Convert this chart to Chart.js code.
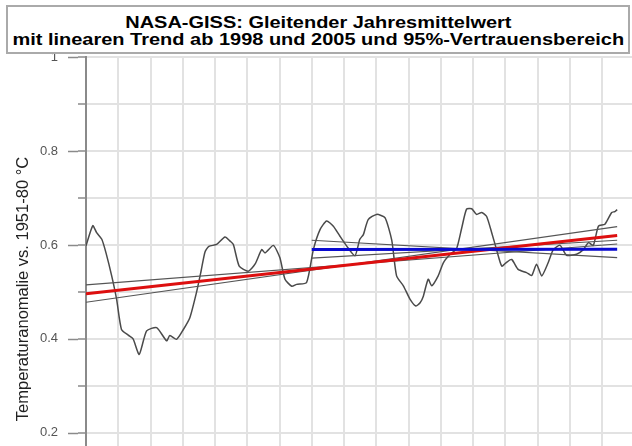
<!DOCTYPE html>
<html>
<head>
<meta charset="utf-8">
<script src="https://cdn.jsdelivr.net/npm/chart.js@4/dist/chart.umd.min.js"></script>
<style>
  html, body { margin: 0; padding: 0; background: #fff; }
  #wrap { position: relative; width: 632px; height: 446px; overflow: hidden; }
  #chart { position: absolute; left: 0; top: 0; }
  #title {
    position: absolute; left: 6px; top: 5px; width: 620px;
    border: 2px solid #aaa; background: #fff; text-align: center;
    font: bold 17px "Liberation Sans", Arial, sans-serif; color: #000;
    padding-top: 7px; box-sizing: content-box; height: 38px;
  }
  #title div { line-height: 17px; white-space: nowrap; }
  #title span { display: inline-block; transform: scaleX(1.175); transform-origin: center; }
</style>
</head>
<body>
<div id="wrap">
  <canvas id="chart" width="632" height="446"></canvas>
  <div id="title">
    <div><span>NASA-GISS: Gleitender Jahresmittelwert</span></div>
    <div><span>mit linearen Trend ab 1998 und 2005 und 95%-Vertrauensbereich</span></div>
  </div>
</div>
<script>
// gleitender 12-Monats-Mittelwert
const curveYears = [1998.00, 1998.21, 1998.33, 1998.49, 1998.62, 1998.80, 1998.95, 1999.10, 1999.31, 1999.46,
  1999.65, 1999.88, 2000.19, 2000.50, 2000.60, 2000.81, 2001.02, 2001.22, 2001.43, 2001.57,
  2001.69, 2001.81, 2002.05, 2002.31, 2002.47, 2002.57, 2002.75, 2003.03, 2003.24, 2003.45,
  2003.55, 2003.81, 2004.01, 2004.17, 2004.38, 2004.53, 2004.84, 2005.05, 2005.26, 2005.46,
  2005.67, 2005.87, 2006.08, 2006.34, 2006.49, 2006.60, 2006.75, 2007.01, 2007.27, 2007.48,
  2007.63, 2007.84, 2008.05, 2008.23, 2008.36, 2008.46, 2008.61, 2008.72, 2008.92, 2009.08,
  2009.29, 2009.49, 2009.65, 2009.80, 2009.96, 2010.11, 2010.27, 2010.42, 2010.58, 2010.73,
  2010.89, 2011.04, 2011.20, 2011.40, 2011.66, 2011.82, 2011.97, 2012.13, 2012.33, 2012.49,
  2012.70, 2012.90, 2013.21, 2013.42, 2013.58, 2013.73, 2013.89, 2014.09, 2014.30, 2014.40, 2014.47];
const curveValues = [0.598, 0.641, 0.626, 0.612, 0.583, 0.533, 0.484, 0.420, 0.408, 0.400,
  0.367, 0.417, 0.424, 0.396, 0.407, 0.399, 0.420, 0.445, 0.500, 0.545,
  0.585, 0.597, 0.601, 0.617, 0.608, 0.601, 0.555, 0.544, 0.559, 0.590,
  0.583, 0.599, 0.573, 0.527, 0.512, 0.516, 0.520, 0.590, 0.633, 0.651,
  0.640, 0.619, 0.598, 0.577, 0.612, 0.622, 0.654, 0.665, 0.658, 0.610,
  0.534, 0.513, 0.484, 0.470, 0.477, 0.491, 0.527, 0.513, 0.534, 0.562,
  0.580, 0.592, 0.636, 0.676, 0.677, 0.665, 0.669, 0.661, 0.626, 0.590,
  0.555, 0.563, 0.569, 0.548, 0.541, 0.535, 0.559, 0.534, 0.562, 0.590,
  0.599, 0.578, 0.580, 0.590, 0.605, 0.599, 0.640, 0.644, 0.669, 0.671, 0.675];

// Trend ab 1998 mit Vertrauensbereich
const trend1998Years = [1998, 2014.47];
const trend1998Values = [0.496, 0.620];
const band1998A = [0.515, 0.602];
const band1998B = [0.478, 0.639];

// Trend ab 2005 mit Vertrauensbereich
const trend2005Years = [2005, 2014.47];
const trend2005Values = [0.590, 0.591];
const band2005A = [0.610, 0.573];
const band2005B = [0.572, 0.610];

const yMajorTicks = [0.2, 0.4, 0.6, 0.8, 1];
const yAxisTitle = 'Temperaturanomalie vs. 1951-80 °C';

function pts(xs, ys) {
    return xs.map((x, i) => ({ x: x, y: ys[i] }));
}

function line(label, data, color, width, tension) {
    return {
        label: label,
        data: data,
        borderColor: color,
        borderWidth: width,
        pointRadius: 0,
        fill: false,
        tension: tension || 0
    };
}

// lange Striche fuer beschriftete Ticks + gedrehter Achsentitel
const extrasPlugin = {
    id: 'extras',
    afterDraw(chart) {
        const ctx = chart.ctx;
        const y = chart.scales.y;
        ctx.save();
        ctx.strokeStyle = '#8a8a8a';
        ctx.lineWidth = 1.5;
        yMajorTicks.forEach(v => {
            const py = Math.round(y.getPixelForValue(v)) + 0.5;
            ctx.beginPath();
            ctx.moveTo(68, py);
            ctx.lineTo(78, py);
            ctx.stroke();
        });
        ctx.translate(27.5, 289);
        ctx.rotate(-Math.PI / 2);
        ctx.font = '16.5px "Liberation Sans", Arial, sans-serif';
        ctx.fillStyle = '#222';
        ctx.textAlign = 'center';
        ctx.textBaseline = 'alphabetic';
        ctx.fillText(yAxisTitle, 0, 0);
        ctx.restore();
    }
};

Chart.defaults.font.family = '"Liberation Sans", Arial, sans-serif';

const ctx = document.getElementById('chart').getContext('2d');
new Chart(ctx, {
    type: 'line',
    data: {
        datasets: [
            line('Trend ab 2005', pts(trend2005Years, trend2005Values), '#0a0ad0', 3),
            line('Trend ab 1998', pts(trend1998Years, trend1998Values), '#dd0f0f', 3),
            line('2005 A', pts(trend2005Years, band2005A), '#555', 1.2),
            line('2005 B', pts(trend2005Years, band2005B), '#555', 1.2),
            line('1998 A', pts(trend1998Years, band1998A), '#555', 1.2),
            line('1998 B', pts(trend1998Years, band1998B), '#555', 1.2),
            line('Gleitender Mittelwert', pts(curveYears, curveValues), '#4a4a4a', 1.5, 0.2)
        ]
    },
    options: {
        responsive: false,
        animation: false,
        layout: { padding: { top: 57, left: 0, right: 0, bottom: 0 } },
        plugins: {
            legend: { display: false },
            title: { display: false },
            tooltip: { enabled: false }
        },
        scales: {
            x: {
                type: 'linear',
                min: 1998,
                max: 2014.93,
                ticks: { display: false, stepSize: 1, includeBounds: false },
                grid: { color: '#e2e2e2', lineWidth: 2, drawTicks: false },
                border: { display: false },
                afterFit(scale) {
                    scale.height = 0;
                    scale.paddingLeft = 0;
                    scale.paddingRight = 0;
                }
            },
            y: {
                min: 0.172,
                max: 1,
                ticks: {
                    stepSize: 0.1,
                    includeBounds: false,
                    padding: 20,
                    color: '#555',
                    font: { size: 13 },
                    callback: function(value) {
                        const r = Math.round(value * 10);
                        if (r % 2 !== 0) return '';
                        return r === 10 ? '1' : (r / 10).toFixed(1);
                    }
                },
                grid: { color: '#e2e2e2', lineWidth: 2, tickLength: 8, tickColor: '#8a8a8a', tickWidth: 1.5 },
                border: { display: true, color: '#8a8a8a', width: 2 },
                afterFit(scale) {
                    scale.width = 86;
                    scale.paddingTop = 0;
                    scale.paddingBottom = 0;
                }
            }
        }
    },
    plugins: [extrasPlugin]
});
</script>
</body>
</html>
